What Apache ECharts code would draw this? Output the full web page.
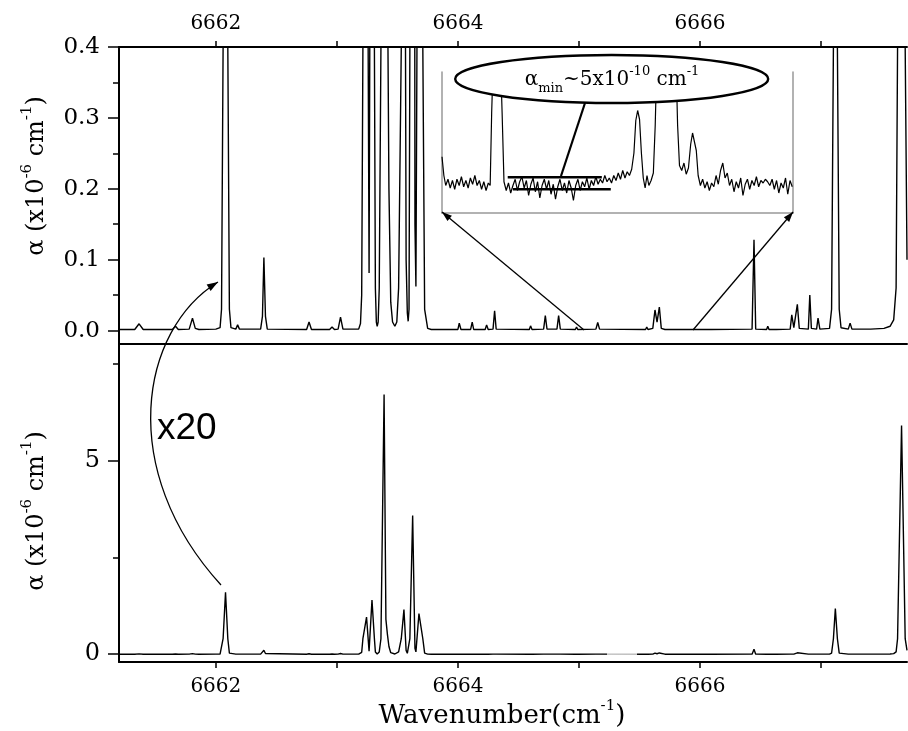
<!DOCTYPE html>
<html>
<head>
<meta charset="utf-8">
<script src="https://cdn.jsdelivr.net/npm/echarts@6/dist/echarts.min.js"></script>
<style>
  html, body { margin: 0; padding: 0; background: #fff; }
  #chart { width: 908px; height: 731px; }
</style>
</head>
<body>
<div id="chart"></div>
<script>
// spectrum, alpha in units of 1e-6 cm^-1
const spectrum = [
  [6661.20, 0.0015], [6661.33, 0.0015], [6661.366, 0.0095], [6661.40, 0.0015],
  [6661.64, 0.0015], [6661.667, 0.006], [6661.69, 0.0015],
  [6661.78, 0.002], [6661.807, 0.0175], [6661.83, 0.003], [6661.845, 0.004], [6661.86, 0.0015],
  [6662.00, 0.002], [6662.035, 0.004], [6662.047, 0.03], [6662.06, 0.4], [6662.08, 1.6],
  [6662.099, 0.4], [6662.112, 0.03], [6662.125, 0.004],
  [6662.165, 0.002], [6662.18, 0.008], [6662.195, 0.002],
  [6662.37, 0.002], [6662.385, 0.02], [6662.397, 0.103], [6662.41, 0.02], [6662.425, 0.002],
  [6662.75, 0.0015], [6662.77, 0.012], [6662.79, 0.0015],
  [6662.94, 0.0015], [6662.96, 0.005], [6662.98, 0.0015],
  [6663.01, 0.002], [6663.03, 0.019], [6663.05, 0.002],
  [6663.18, 0.002], [6663.195, 0.01], [6663.205, 0.05], [6663.215, 0.4], [6663.245, 0.96],
  [6663.266, 0.081], [6663.29, 1.40], [6663.31, 0.4], [6663.318, 0.06], [6663.326, 0.012],
  [6663.333, 0.006], [6663.341, 0.012], [6663.35, 0.06], [6663.364, 0.4], [6663.39, 6.70],
  [6663.405, 0.9], [6663.418, 0.5], [6663.43, 0.2], [6663.445, 0.04], [6663.46, 0.012],
  [6663.479, 0.006], [6663.495, 0.012], [6663.51, 0.06], [6663.532, 0.4], [6663.554, 1.15],
  [6663.572, 0.1], [6663.582, 0.025], [6663.589, 0.013], [6663.596, 0.03], [6663.603, 0.4],
  [6663.626, 3.58], [6663.645, 0.15], [6663.653, 0.062], [6663.678, 1.05],
  [6663.71, 0.4], [6663.725, 0.03], [6663.75, 0.003], [6663.78, 0.0015],
  [6664.00, 0.0015], [6664.011, 0.0105], [6664.025, 0.0015],
  [6664.105, 0.0015], [6664.118, 0.012], [6664.13, 0.0015],
  [6664.225, 0.0015], [6664.237, 0.008], [6664.25, 0.0015],
  [6664.29, 0.002], [6664.303, 0.028], [6664.316, 0.002],
  [6664.59, 0.0015], [6664.60, 0.0066], [6664.612, 0.0015],
  [6664.708, 0.002], [6664.722, 0.021], [6664.736, 0.002],
  [6664.818, 0.002], [6664.832, 0.021], [6664.846, 0.002],
  [6664.97, 0.0015], [6664.98, 0.005], [6664.99, 0.0015],
  [6665.14, 0.002], [6665.155, 0.0113], [6665.17, 0.002],
  [6665.55, 0.0015], [6665.56, 0.005], [6665.57, 0.0015],
  [6665.61, 0.003], [6665.628, 0.029], [6665.645, 0.012], [6665.664, 0.033], [6665.68, 0.003],
  [6665.71, 0.0015], [6665.72, 0.004], [6665.73, 0.0015],
  [6666.07, 0.0015], [6666.08, 0.004], [6666.09, 0.0015],
  [6666.43, 0.002], [6666.446, 0.128], [6666.46, 0.002],
  [6666.55, 0.0015], [6666.56, 0.006], [6666.57, 0.0015],
  [6666.61, 0.0015], [6666.62, 0.004], [6666.63, 0.0015],
  [6666.745, 0.002], [6666.758, 0.022], [6666.775, 0.004], [6666.804, 0.037], [6666.82, 0.003],
  [6666.895, 0.002], [6666.907, 0.050], [6666.92, 0.003],
  [6666.963, 0.002], [6666.975, 0.0175], [6666.99, 0.002],
  [6667.07, 0.003], [6667.087, 0.03], [6667.102, 0.4], [6667.118, 1.18], [6667.135, 0.4],
  [6667.15, 0.03], [6667.165, 0.004],
  [6667.225, 0.002], [6667.24, 0.0104], [6667.255, 0.002],
  [6667.39, 0.002], [6667.40, 0.004], [6667.41, 0.002],
  [6667.52, 0.003], [6667.57, 0.006], [6667.60, 0.015], [6667.62, 0.06], [6667.632, 0.4],
  [6667.665, 5.9], [6667.695, 0.4], [6667.71, 0.1]
];

// inset: 6665.0 - 6665.94 cm^-1, alpha in units of 1e-10 cm^-1
const insetTrace = [
  [6665.000, 45], [6665.005, 30], [6665.010, 22], [6665.016, 27], [6665.022, 20], [6665.028, 26],
  [6665.034, 19], [6665.040, 27], [6665.046, 22], [6665.052, 29], [6665.058, 21], [6665.064, 26],
  [6665.070, 20], [6665.076, 28], [6665.082, 23], [6665.088, 30], [6665.094, 22], [6665.100, 26],
  [6665.106, 19], [6665.112, 25], [6665.118, 18], [6665.124, 24],
  [6665.129, 22], [6665.133, 80], [6665.137, 120], [6665.147, 140], [6665.157, 120], [6665.161, 80],
  [6665.166, 25],
  [6665.172, 18], [6665.178, 24], [6665.184, 16], [6665.190, 22], [6665.196, 27], [6665.202, 18],
  [6665.208, 25], [6665.214, 29], [6665.220, 20], [6665.226, 26], [6665.232, 14], [6665.238, 23],
  [6665.244, 28], [6665.250, 17], [6665.256, 25], [6665.262, 12], [6665.268, 22], [6665.274, 27],
  [6665.280, 19], [6665.286, 26], [6665.292, 15], [6665.298, 23], [6665.304, 11], [6665.310, 21],
  [6665.316, 27], [6665.322, 18], [6665.328, 24], [6665.334, 16], [6665.340, 26], [6665.346, 20],
  [6665.352, 10], [6665.358, 22], [6665.364, 27], [6665.370, 18], [6665.376, 25], [6665.382, 21],
  [6665.388, 28], [6665.394, 19], [6665.400, 26], [6665.406, 22], [6665.412, 29], [6665.418, 23],
  [6665.424, 27], [6665.430, 24], [6665.436, 30], [6665.442, 25], [6665.448, 28], [6665.454, 24],
  [6665.460, 30], [6665.466, 26], [6665.472, 32], [6665.478, 27], [6665.484, 34], [6665.490, 28],
  [6665.496, 33], [6665.502, 30], [6665.508, 35],
  [6665.514, 48], [6665.519, 74], [6665.524, 82], [6665.529, 75], [6665.534, 48], [6665.539, 28],
  [6665.544, 20], [6665.549, 30], [6665.554, 22],
  [6665.560, 26], [6665.566, 32], [6665.571, 70], [6665.576, 130], [6665.600, 160], [6665.626, 130],
  [6665.631, 70], [6665.636, 38], [6665.642, 34], [6665.648, 40], [6665.654, 31], [6665.660, 36],
  [6665.666, 55], [6665.671, 64], [6665.676, 63], [6665.681, 50], [6665.686, 30], [6665.692, 22],
  [6665.698, 27], [6665.704, 20], [6665.710, 25], [6665.716, 18], [6665.722, 24], [6665.728, 21],
  [6665.734, 30], [6665.740, 23], [6665.746, 34], [6665.752, 40], [6665.758, 28], [6665.764, 32],
  [6665.770, 22], [6665.776, 27], [6665.782, 17], [6665.788, 25], [6665.794, 20], [6665.800, 28],
  [6665.806, 14], [6665.812, 23], [6665.818, 27], [6665.824, 19], [6665.830, 26], [6665.836, 22],
  [6665.842, 29], [6665.848, 21], [6665.854, 26], [6665.860, 24], [6665.866, 27], [6665.872, 25],
  [6665.878, 22], [6665.884, 27], [6665.890, 19], [6665.896, 26], [6665.902, 16], [6665.908, 24],
  [6665.914, 20], [6665.920, 28], [6665.926, 15], [6665.932, 26], [6665.938, 21]
];
// noise band marks in the inset
const noiseUpper = [[6665.176, 28.6], [6665.428, 28.6]];
const noiseLower = [[6665.190, 19.0], [6665.452, 19.0]];

const xLabels = [6662, 6664, 6666];
const xTicks = [6662, 6663, 6664, 6665, 6666, 6667];
const topYTicks = [0, 0.1, 0.2, 0.3, 0.4];
const topYMinor = [0.05, 0.15, 0.25, 0.35];
const botYTicks = [0, 5];
const botYMinor = [2.5, 7.5];

const serif = 'DejaVu Serif';
const axisLine = { show: true, onZero: false, lineStyle: { color: '#000', width: 2 } };

function xAxisMain(grid, pos, withLabels) {
  return {
    type: 'value', gridIndex: grid, position: pos, min: 6661.2, max: 6667.71,
    axisLine: axisLine,
    axisTick: { show: withLabels, inside: false, length: 6, lineStyle: { width: 1.5, color: '#000' }, customValues: xTicks },
    axisLabel: { show: withLabels, customValues: xLabels, margin: pos === 'top' ? 13 : 15,
      fontFamily: serif, fontSize: 20, color: '#000', formatter: v => String(v) },
    splitLine: { show: false }
  };
}
function yAxisMain(grid, min, max, ticks, fmt, fs) {
  return {
    type: 'value', gridIndex: grid, position: 'left', min: min, max: max,
    axisLine: axisLine,
    axisTick: { length: 11, lineStyle: { width: 1.5, color: '#000' }, customValues: ticks },
    axisLabel: { customValues: ticks, margin: 19, fontFamily: serif, fontSize: fs, color: '#000', formatter: fmt },
    splitLine: { show: false }
  };
}
function yAxisMinor(grid, min, max, ticks) {
  return {
    type: 'value', gridIndex: grid, position: 'left', min: min, max: max,
    axisLine: { show: false, onZero: false },
    axisTick: { length: 6, lineStyle: { width: 1.5, color: '#000' }, customValues: ticks },
    axisLabel: { show: false },
    splitLine: { show: false }
  };
}

function arrowHead(x1, y1, x2, y2, len, w) {
  const a = Math.atan2(y2 - y1, x2 - x1);
  const c = Math.cos(a), s = Math.sin(a);
  return {
    type: 'polygon', z: 100,
    shape: { points: [[x2, y2], [x2 - len * c + w * s, y2 - len * s - w * c], [x2 - len * c - w * s, y2 - len * s + w * c]] },
    style: { fill: '#000' }
  };
}
function arrow(x1, y1, x2, y2) {
  return [
    { type: 'line', z: 100, shape: { x1: x1, y1: y1, x2: x2, y2: y2 }, style: { stroke: '#000', lineWidth: 1.3 } },
    arrowHead(x1, y1, x2, y2, 10, 3.5)
  ];
}

const nameRich = {
  n: { fontFamily: serif, fontSize: 24, lineHeight: 34, fill: '#000', color: '#000' },
  s: { fontFamily: serif, fontSize: 15, lineHeight: 16, verticalAlign: 'top', fill: '#000', color: '#000' }
};
const yName = '{n|α (x10}{s|-6}{n| cm}{s|-1}{n|)}';

const chart = echarts.init(document.getElementById('chart'));
chart.setOption({
  backgroundColor: '#fff',
  animation: false,
  grid: [
    { left: 119, top: 47, width: 788, height: 297 },
    { left: 119, top: 344, width: 788, height: 318 },
    { left: 442, top: 72, width: 351, height: 141 }
  ],
  xAxis: [
    xAxisMain(0, 'top', true),
    Object.assign(xAxisMain(1, 'bottom', true), {
      name: '{n|Wavenumber(cm}{s|-1}{n|)}',
      nameLocation: 'middle', nameGap: 37,
      nameTextStyle: { rich: { n: Object.assign({}, nameRich.n, { fontSize: 26 }), s: nameRich.s }, padding: [0, 22, 0, 0] }
    }),
    xAxisMain(0, 'bottom', false),
    {
      type: 'value', gridIndex: 2, min: 6665.0, max: 6665.94,
      axisLine: { show: true, onZero: false, lineStyle: { color: '#999', width: 1.5 } },
      axisTick: { show: false }, axisLabel: { show: false }, splitLine: { show: false }
    }
  ],
  yAxis: [
    yAxisMain(0, -0.019, 0.4, topYTicks, v => v.toFixed(1), 23),
    yAxisMinor(0, -0.019, 0.4, topYMinor),
    yAxisMain(1, -0.2, 8, botYTicks, v => String(v), 24),
    yAxisMinor(1, -0.2, 8, botYMinor),
    {
      type: 'value', gridIndex: 2, position: 'left', min: 0, max: 112.8,
      axisLine: { show: true, onZero: false, lineStyle: { color: '#999', width: 1.5 } },
      axisTick: { show: false }, axisLabel: { show: false }, splitLine: { show: false }
    },
    {
      type: 'value', gridIndex: 2, position: 'right', min: 0, max: 112.8,
      axisLine: { show: true, onZero: false, lineStyle: { color: '#999', width: 1.5 } },
      axisTick: { show: false }, axisLabel: { show: false }, splitLine: { show: false }
    }
  ],
  visualMap: {
    type: 'piecewise', show: false, seriesIndex: 1, dimension: 0,
    pieces: [{ gt: 6665.23, lte: 6665.48, color: '#bbb' }],
    outOfRange: { color: '#000' }
  },
  series: [
    { type: 'line', xAxisIndex: 0, yAxisIndex: 0, data: spectrum, showSymbol: false, symbol: 'none',
      clip: true, lineStyle: { color: '#000', width: 1.4 }, itemStyle: { color: '#000' } },
    { type: 'line', xAxisIndex: 1, yAxisIndex: 2, data: spectrum, showSymbol: false, symbol: 'none',
      clip: true, lineStyle: { width: 1.4 } },
    { type: 'line', xAxisIndex: 3, yAxisIndex: 4, data: insetTrace, showSymbol: false, symbol: 'none',
      clip: true, lineStyle: { color: '#000', width: 1.2 } },
    { type: 'line', xAxisIndex: 3, yAxisIndex: 4, data: noiseUpper, showSymbol: false, symbol: 'none',
      lineStyle: { color: '#000', width: 2.5 } },
    { type: 'line', xAxisIndex: 3, yAxisIndex: 4, data: noiseLower, showSymbol: false, symbol: 'none',
      lineStyle: { color: '#000', width: 2.5 } }
  ],
  graphic: [
    { type: 'text', x: 37, y: 176, rotation: Math.PI / 2,
      style: { text: yName, rich: nameRich, align: 'center', verticalAlign: 'middle', fill: '#000' } },
    { type: 'text', x: 37, y: 511, rotation: Math.PI / 2,
      style: { text: yName, rich: nameRich, align: 'center', verticalAlign: 'middle', fill: '#000' } },
    { type: 'text', x: 157, y: 429, style: { text: 'x20', fontFamily: 'Liberation Sans', fontSize: 37,
      fill: '#000', align: 'left', verticalAlign: 'middle' } },
    { type: 'bezierCurve', z: 100,
      shape: { x1: 221, y1: 585, cpx1: 116, cpy1: 470, cpx2: 140, cpy2: 330, x2: 218, y2: 282 },
      style: { stroke: '#000', fill: null, lineWidth: 1.3 } },
    arrowHead(140, 330, 218, 282, 11, 3.8),
    ...arrow(584, 330, 442, 212),
    ...arrow(693, 330, 793, 212),
    { type: 'ellipse', z: 110, shape: { cx: 611.7, cy: 79, rx: 156.5, ry: 24 },
      style: { fill: '#fff', stroke: '#000', lineWidth: 2.4 } },
    { type: 'text', z: 120, x: 612, y: 80,
      style: {
        text: '{a|α}{b|min}{a|~5x10}{c|-10}{a| cm}{c|-1}',
        align: 'center', verticalAlign: 'middle', fill: '#000',
        rich: {
          a: { fontFamily: serif, fontSize: 20, lineHeight: 30, fill: '#000' },
          b: { fontFamily: serif, fontSize: 13, lineHeight: 14, verticalAlign: 'bottom', fill: '#000' },
          c: { fontFamily: serif, fontSize: 13, lineHeight: 14, verticalAlign: 'top', fill: '#000' }
        }
      } },
    { type: 'line', z: 120, shape: { x1: 585, y1: 103, x2: 561, y2: 176 },
      style: { stroke: '#000', lineWidth: 2.2 } }
  ]
});
</script>
</body>
</html>
